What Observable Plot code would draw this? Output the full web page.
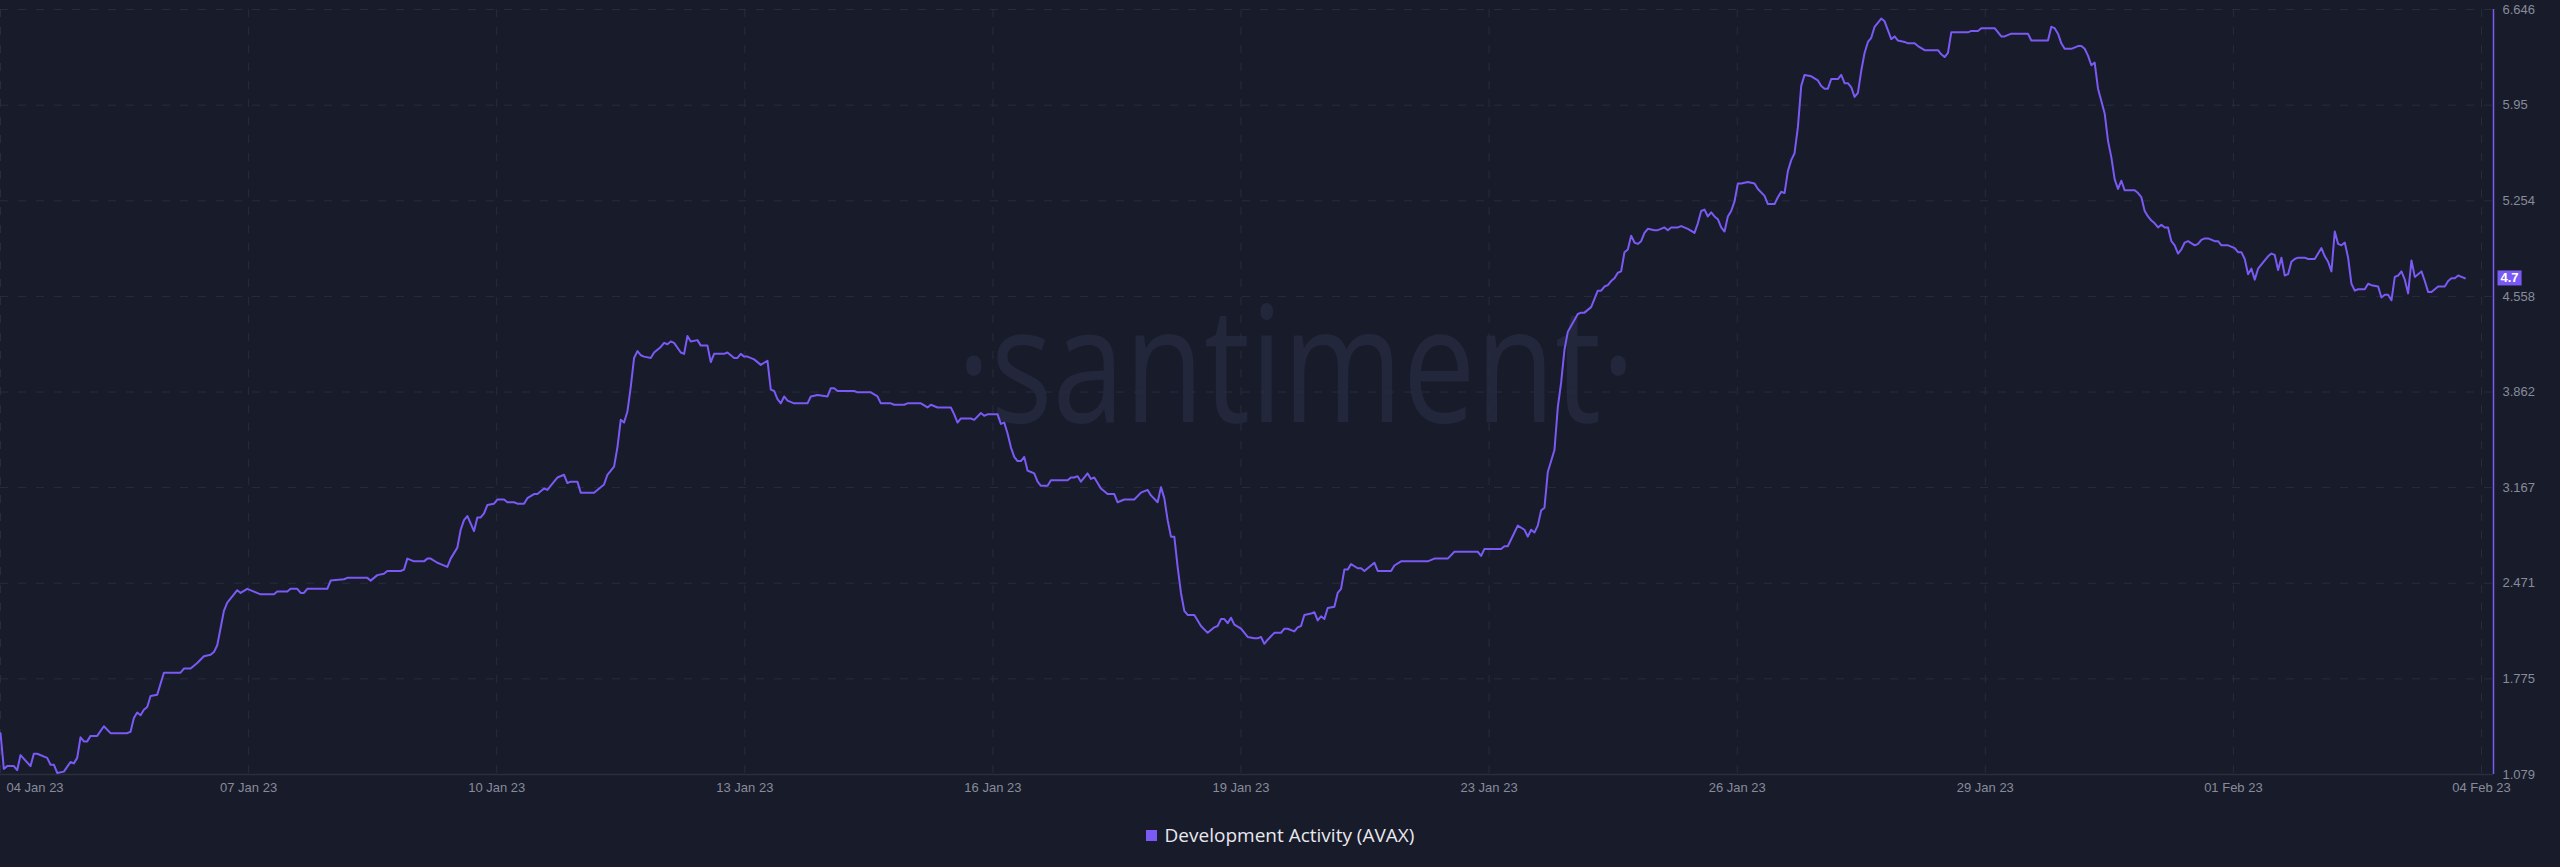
<!DOCTYPE html>
<html><head><meta charset="utf-8">
<script src="https://cdn.jsdelivr.net/npm/d3@7"></script>
<script src="https://cdn.jsdelivr.net/npm/@observablehq/plot@0.6"></script>
<style>
html,body{margin:0;padding:0;background:#181b2a;}
#wrap{position:relative;width:2560px;height:867px;overflow:hidden;background:#181b2a;}
#wm{position:absolute;left:1296px;top:278px;transform:translateX(-50%) scaleX(0.8);font-family:"Open Sans",sans-serif;font-weight:400;font-size:162px;line-height:162px;color:#23273b;white-space:nowrap;}
#chart{position:absolute;left:0;top:0;}
#legend{position:absolute;left:0;top:822px;width:2560px;display:flex;justify-content:center;align-items:center;gap:8px;font-family:"Open Sans",sans-serif;font-size:19px;line-height:26px;color:#e8e8ee;}
#legend .sw{width:11px;height:11px;}
</style></head>
<body><div id="wrap"><div id="wm">·santiment·</div><div id="chart"></div><div id="legend"></div></div>
<script>
const seriesName = "Development Activity (AVAX)";
const startDate = "2023-01-04T00:00:00Z";
const endDate = "2023-02-04T03:36:00Z";

const hoursSinceStart = [
  0,1,2,4,5,6,9,10,11,14,
  15,16,17,19,21,22,23,24,25,26,
  27,29,31,33,38,39,40,41,42,43,
  44,45,47,49,54,55,57,59,61,63,
  64,65,67,68,70,71,72,74,76,78,
  82,83,86,87,89,90,91,92,98,99,
  103,104,110,111,113,115,116,119,120,121,
  122,124,127,128,129,131,132,134,135,137,
  138,139,140,142,143,144,145,146,148,149,
  151,152,154,155,157,158,160,161,163,164,
  166,167,169,170,171,173,174,176,178,179,
  181,182,184,185,186,187,188,189,190,191,
  192,193,195,196,198,199,200,201,202,204,
  205,206,207,209,210,212,213,214,217,218,
  220,221,222,223,224,226,228,230,231,232,
  233,234,235,236,238,242,243,245,248,249,
  250,251,256,257,261,263,264,267,268,271,
  272,276,278,279,281,285,286,287,288,291,
  292,294,295,296,299,300,301,302,303,304,
  305,306,307,308,309,310,311,312,314,315,
  320,321,322,323,324,326,327,328,330,332,
  334,335,337,340,342,344,345,347,348,349,
  350,351,352,353,354,355,356,358,360,362,
  364,365,366,367,368,369,370,372,374,376,
  377,378,379,380,382,384,385,386,388,389,
  390,391,393,394,395,396,397,398,400,401,
  402,403,404,405,407,408,409,412,413,417,
  418,420,428,430,434,436,439,440,443,444,
  445,450,451,452,454,455,457,458,459,460,
  461,462,463,464,466,467,468,469,470,473,
  474,475,477,478,479,480,481,482,483,484,
  485,486,487,488,489,490,491,492,493,494,
  496,497,499,500,501,503,504,506,508,509,
  510,511,512,513,514,515,516,517,518,519,
  520,521,522,524,526,527,529,530,532,533,
  534,535,536,537,538,539,540,541,543,545,
  546,547,548,549,550,551,552,553,554,555,
  556,557,558,559,560,561,562,564,565,567,
  568,569,571,572,574,575,577,581,582,583,
  584,585,590,591,593,594,598,600,601,603,
  604,608,609,614,615,616,617,618,619,621,
  623,624,625,626,627,628,629,630,631,632,
  633,634,635,636,637,640,641,642,643,644,
  645,646,647,648,649,650,651,652,653,654,
  655,656,658,659,660,661,662,664,665,666,
  668,670,671,672,673,674,675,676,677,679,
  680,681,682,683,684,685,686,687,688,689,
  691,692,694,695,696,697,698,699,700,701,
  702,703,704,705,706,707,709,710,711,713,
  714,715,716,717,718,719,720,721,722,723,
  724,726,727,728,729,731,732,733,734,735,
  736,737,738,739
];

const devActivity = [
  1.38,1.12,1.14,1.14,1.11,1.22,1.14,1.23,1.23,1.20,
  1.15,1.15,1.09,1.10,1.17,1.16,1.20,1.35,1.32,1.32,
  1.36,1.36,1.43,1.38,1.38,1.39,1.49,1.53,1.51,1.55,
  1.57,1.65,1.66,1.82,1.82,1.85,1.85,1.89,1.94,1.95,
  1.97,2.02,2.27,2.33,2.39,2.42,2.40,2.43,2.41,2.39,
  2.39,2.41,2.41,2.43,2.43,2.40,2.40,2.43,2.43,2.49,
  2.50,2.51,2.51,2.49,2.53,2.54,2.56,2.56,2.56,2.57,
  2.65,2.63,2.63,2.65,2.65,2.62,2.61,2.59,2.65,2.73,
  2.86,2.93,2.96,2.85,2.95,2.95,2.98,3.04,3.05,3.08,
  3.08,3.06,3.06,3.05,3.05,3.09,3.12,3.12,3.16,3.15,
  3.21,3.24,3.26,3.20,3.21,3.21,3.13,3.13,3.13,3.15,
  3.19,3.26,3.32,3.46,3.66,3.64,3.72,3.90,4.11,4.16,
  4.13,4.12,4.11,4.15,4.19,4.22,4.21,4.23,4.22,4.15,
  4.14,4.27,4.23,4.24,4.20,4.20,4.08,4.14,4.14,4.15,
  4.11,4.11,4.14,4.12,4.12,4.10,4.06,4.09,3.88,3.87,
  3.81,3.78,3.83,3.80,3.78,3.78,3.83,3.84,3.83,3.89,
  3.89,3.87,3.87,3.86,3.86,3.83,3.78,3.78,3.77,3.77,
  3.78,3.78,3.75,3.77,3.75,3.75,3.70,3.64,3.67,3.67,
  3.66,3.71,3.69,3.70,3.70,3.63,3.64,3.56,3.46,3.39,
  3.36,3.36,3.39,3.29,3.28,3.27,3.21,3.18,3.18,3.22,
  3.22,3.24,3.24,3.25,3.21,3.27,3.23,3.24,3.16,3.12,
  3.12,3.06,3.08,3.08,3.13,3.15,3.11,3.06,3.17,3.09,
  2.93,2.81,2.81,2.59,2.40,2.27,2.24,2.24,2.16,2.11,
  2.15,2.16,2.21,2.21,2.18,2.22,2.17,2.14,2.08,2.07,
  2.07,2.08,2.03,2.06,2.11,2.11,2.14,2.14,2.12,2.15,
  2.16,2.24,2.25,2.26,2.20,2.23,2.21,2.29,2.30,2.40,
  2.43,2.57,2.57,2.61,2.58,2.58,2.56,2.62,2.56,2.56,
  2.60,2.63,2.63,2.65,2.65,2.70,2.70,2.70,2.70,2.67,
  2.72,2.72,2.74,2.74,2.84,2.89,2.86,2.81,2.86,2.84,
  2.89,3.00,3.02,3.28,3.44,3.75,3.93,4.17,4.30,4.43,
  4.44,4.44,4.48,4.54,4.60,4.60,4.63,4.64,4.67,4.69,
  4.73,4.74,4.88,4.90,5.00,4.95,4.94,4.96,5.02,5.05,
  5.04,5.04,5.06,5.04,5.06,5.06,5.07,5.05,5.02,5.09,
  5.18,5.19,5.14,5.17,5.14,5.12,5.06,5.03,5.14,5.18,
  5.25,5.38,5.38,5.39,5.38,5.34,5.29,5.23,5.23,5.28,
  5.32,5.31,5.47,5.55,5.60,5.79,6.09,6.17,6.16,6.13,
  6.09,6.07,6.07,6.14,6.14,6.14,6.17,6.11,6.11,6.08,
  6.01,6.04,6.20,6.33,6.41,6.44,6.52,6.58,6.56,6.43,
  6.45,6.42,6.41,6.40,6.40,6.38,6.35,6.35,6.32,6.30,
  6.33,6.48,6.48,6.49,6.49,6.51,6.51,6.45,6.45,6.47,
  6.47,6.47,6.42,6.42,6.52,6.51,6.47,6.40,6.36,6.36,
  6.38,6.38,6.36,6.31,6.24,6.26,6.07,5.98,5.89,5.69,
  5.57,5.41,5.34,5.40,5.33,5.33,5.31,5.28,5.18,5.14,
  5.11,5.09,5.06,5.08,5.06,5.06,4.96,4.93,4.87,4.90,
  4.95,4.96,4.93,4.94,4.97,4.98,4.98,4.96,4.96,4.93,
  4.93,4.91,4.88,4.88,4.83,4.72,4.76,4.68,4.76,4.82,
  4.85,4.87,4.86,4.75,4.84,4.71,4.72,4.81,4.83,4.84,
  4.84,4.83,4.83,4.87,4.91,4.85,4.81,4.74,5.03,4.94,
  4.93,4.95,4.84,4.65,4.60,4.61,4.61,4.65,4.64,4.63,
  4.55,4.57,4.57,4.53,4.70,4.71,4.74,4.68,4.58,4.82,
  4.70,4.74,4.67,4.59,4.59,4.63,4.63,4.63,4.67,4.69,
  4.69,4.71,4.70,4.69
];

const yTickValues = [1.079, 1.775, 2.471, 3.167, 3.862, 4.558, 5.254, 5.95, 6.646];
const yTickLabels = ["1.079", "1.775", "2.471", "3.167", "3.862", "4.558", "5.254", "5.95", "6.646"];
const xTickDates = [
  "2023-01-04T00:00:00Z", "2023-01-07T02:24:00Z", "2023-01-10T04:48:00Z", "2023-01-13T07:12:00Z",
  "2023-01-16T09:36:00Z", "2023-01-19T12:00:00Z", "2023-01-22T14:24:00Z", "2023-01-25T16:48:00Z",
  "2023-01-28T19:12:00Z", "2023-01-31T21:36:00Z", "2023-02-04T00:00:00Z"
];
const xTickLabels = ["04 Jan 23", "07 Jan 23", "10 Jan 23", "13 Jan 23", "16 Jan 23", "19 Jan 23",
  "23 Jan 23", "26 Jan 23", "29 Jan 23", "01 Feb 23", "04 Feb 23"];

const purple = "#7a5af5";
const gridColor = "#282c3e";
const tickColor = "#878c9a";

const start = new Date(startDate);
const end = new Date(endDate);
const data = hoursSinceStart.map((h, i) => ({date: d3.utcHour.offset(start, h), value: devActivity[i]}));
const tickDates = xTickDates.map(s => new Date(s));
const xLabelOf = new Map(tickDates.map((d, i) => [+d, xTickLabels[i]]));
const yLabelOf = new Map(yTickValues.map((v, i) => [v, yTickLabels[i]]));
const last = data[data.length - 1];
const lastLabel = last.value.toFixed(1);

const chart = Plot.plot({
  width: 2560,
  height: 800,
  marginLeft: 0,
  marginRight: 67,
  marginTop: 9,
  marginBottom: 26,
  style: {background: "transparent", fontFamily: "'Liberation Sans', Arial, sans-serif", fontSize: "13px", color: tickColor},
  x: {type: "utc", domain: [start, end]},
  y: {domain: [yTickValues[0], yTickValues[yTickValues.length - 1]]},
  marks: [
    Plot.gridY(yTickValues.slice(1), {stroke: gridColor, strokeOpacity: 1, strokeDasharray: "8,10"}),
    Plot.gridX(tickDates, {stroke: gridColor, strokeOpacity: 1, strokeDasharray: "8,10"}),
    Plot.ruleY([yTickValues[0]], {stroke: "#2a2e3f", strokeWidth: 1.5}),
    Plot.axisX(tickDates.slice(0, 1), {tickSize: 0, tickPadding: 8, textAnchor: "start", dx: 6, tickFormat: d => xLabelOf.get(+d), label: null}),
    Plot.axisX(tickDates.slice(1), {tickSize: 0, tickPadding: 8, tickFormat: d => xLabelOf.get(+d), label: null}),
    Plot.axisY(yTickValues, {anchor: "right", tickSize: 0, tickPadding: 9, tickFormat: v => yLabelOf.get(v), label: null}),
    Plot.ruleX([end], {stroke: purple, strokeWidth: 1.5}),
    Plot.line(data, {x: "date", y: "value", stroke: purple, strokeWidth: 2}),
    Plot.text([last], {x: () => end, y: "value", text: () => lastLabel, textAnchor: "start", dx: 7, fill: "#ffffff", fontSize: 13, fontWeight: 600})
  ]
});
document.getElementById("chart").appendChild(chart);

// purple badge behind the last-value label
const lastText = Array.from(chart.querySelectorAll("text")).filter(t => t.textContent === lastLabel).pop();
if (lastText) {
  const bb = lastText.getBBox();
  const rect = document.createElementNS("http://www.w3.org/2000/svg", "rect");
  rect.setAttribute("x", bb.x - 3);
  rect.setAttribute("y", bb.y);
  rect.setAttribute("width", bb.width + 6);
  rect.setAttribute("height", bb.height);
  rect.setAttribute("fill", purple);
  const t = lastText.getAttribute("transform");
  if (t) rect.setAttribute("transform", t);
  lastText.parentNode.insertBefore(rect, lastText);
}

const legend = document.getElementById("legend");
const sw = document.createElement("div");
sw.className = "sw";
sw.style.background = purple;
const lab = document.createElement("span");
lab.textContent = seriesName;
legend.appendChild(sw);
legend.appendChild(lab);
</script>
</body></html>
